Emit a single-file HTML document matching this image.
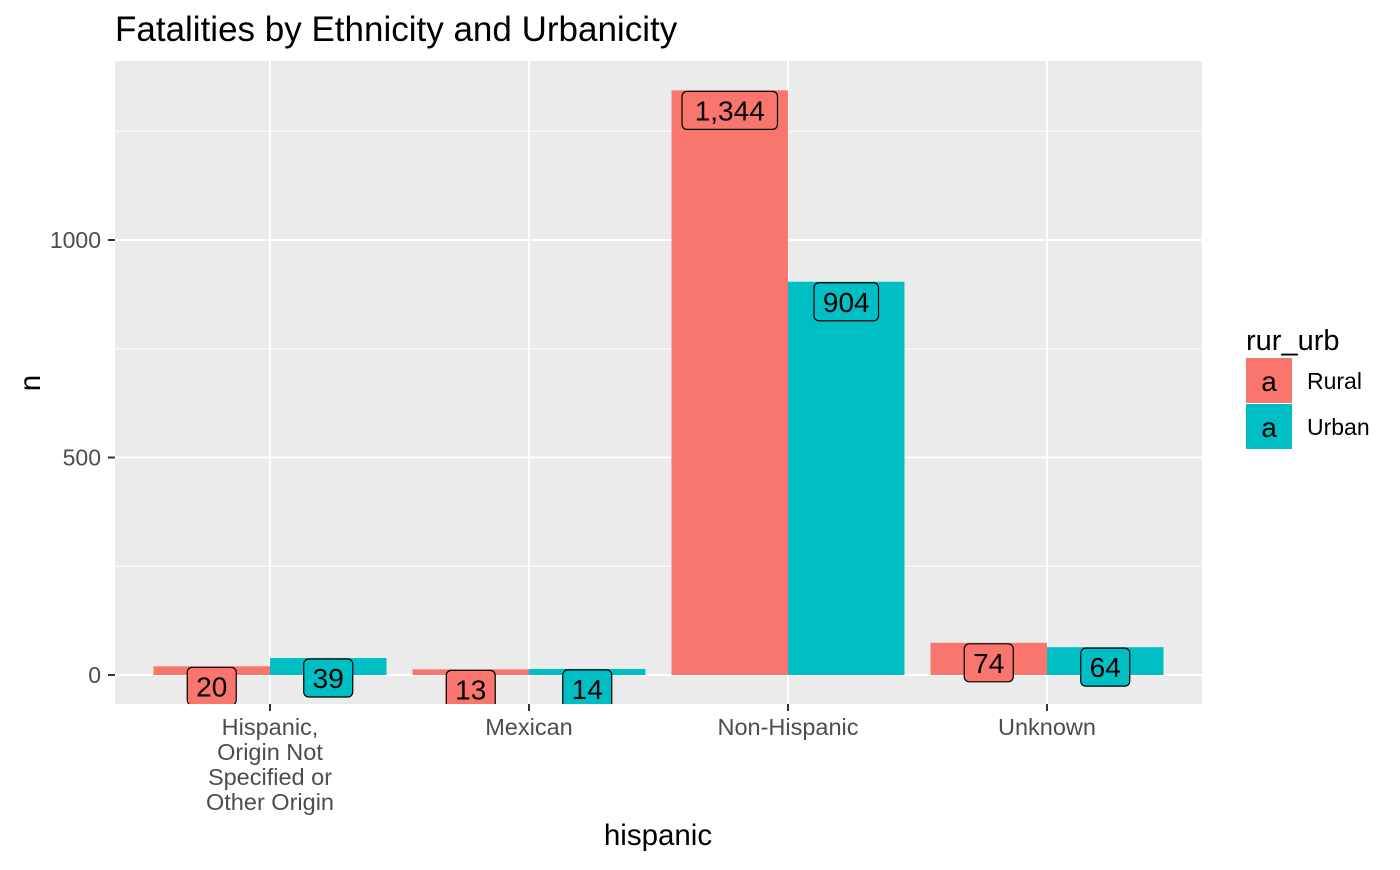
<!DOCTYPE html>
<html><head><meta charset="utf-8"><style>
body{margin:0;background:#fff;font-family:"Liberation Sans",Arial,sans-serif;}
</style></head><body>
<svg width="1400" height="865" xmlns="http://www.w3.org/2000/svg" font-family="Liberation Sans, Arial, sans-serif">
<text x="115" y="41" font-size="35" fill="#000">Fatalities by Ethnicity and Urbanicity</text>
<defs><clipPath id="pc"><rect x="115" y="61" width="1087" height="643"/></clipPath></defs>
<rect x="115" y="61" width="1087" height="643" fill="#ebebeb"/>
<g id="grid"></g>
<g id="bars" clip-path="url(#pc)"></g>
<g id="axes"></g>
<text x="658" y="845" font-size="29.5" text-anchor="middle">hispanic</text>
<text transform="translate(40,383) rotate(-90)" font-size="29.5" text-anchor="middle">n</text>
<g>
<text x="1246" y="350" font-size="29">rur_urb</text>
<g><rect x="1246" y="358" width="46" height="45" fill="#f8766d"/><text x="1269" y="391" font-size="28" text-anchor="middle">a</text><text x="1307" y="389" font-size="23" fill="#000">Rural</text></g>
<g><rect x="1246" y="404" width="46" height="45" fill="#00bfc4"/><text x="1269" y="437" font-size="28" text-anchor="middle">a</text><text x="1307" y="435" font-size="23" fill="#000">Urban</text></g>
</g>
</svg>
<script>
const categories=[["Hispanic,","Origin Not","Specified or","Other Origin"],["Mexican"],["Non-Hispanic"],["Unknown"]];
const rural=[20,13,1344,74];
const urban=[39,14,904,64];
const yTicks=[0,500,1000];
const yMinor=[250,750,1250];
const ns="http://www.w3.org/2000/svg";
const y=v=>675-v*0.435;
const xc=i=>270+i*259;
const bw=116.5;
function mk(t,a,p){const e=document.createElementNS(ns,t);for(const k in a)e.setAttribute(k,a[k]);p.appendChild(e);return e;}
const g=document.getElementById('grid'),b=document.getElementById('bars'),ax=document.getElementById('axes');
yMinor.forEach(v=>{const l=mk('line',{x1:115,x2:1202,y1:y(v),y2:y(v),stroke:'#fff','stroke-width':1},g);

});
yTicks.forEach(v=>{const l=mk('line',{x1:115,x2:1202,y1:y(v),y2:y(v),stroke:'#fff','stroke-width':2},g);


mk('line',{x1:108,x2:115,y1:y(v),y2:y(v),stroke:'#333','stroke-width':2},ax);
const t=mk('text',{x:101,y:y(v)+8,'font-size':23,fill:'#4d4d4d','text-anchor':'end'},ax);t.textContent=v;

});
categories.forEach((c,i)=>{const l=mk('line',{x1:xc(i),x2:xc(i),y1:61,y2:704,stroke:'#fff','stroke-width':2},g);


mk('line',{x1:xc(i),x2:xc(i),y1:704,y2:711,stroke:'#333','stroke-width':2},ax);
const t=mk('text',{x:xc(i),'font-size':23.5,fill:'#4d4d4d','text-anchor':'middle'},ax);


c.forEach((s,k)=>{const ts=mk('tspan',{x:xc(i),y:735+k*25},t);ts.textContent=s;});});
function label(cx,v,col){const s=v.toLocaleString('en-US');const w=s.length*15.5+18;
const top=y(v)+1;
const r=mk('rect',{x:cx-w/2,y:top,width:w,height:38,rx:5,fill:col,stroke:'#000','stroke-width':1.2},b);


const t=mk('text',{x:cx,y:top+29,'font-size':28,'text-anchor':'middle'},b);t.textContent=s;}
[[rural,'#f8766d',-1,'rural'],[urban,'#00bfc4',0,'urban']].forEach(([arr,col,off,nm])=>{
arr.forEach((v,i)=>{const x0=xc(i)+off*bw;
const r=mk('rect',{x:x0,y:y(v),width:bw,height:675-y(v),fill:col},b);

});});
[[rural,'#f8766d',-1],[urban,'#00bfc4',0]].forEach(([arr,col,off])=>arr.forEach((v,i)=>label(xc(i)+off*bw+bw/2,v,col)));
</script>
</body></html>
